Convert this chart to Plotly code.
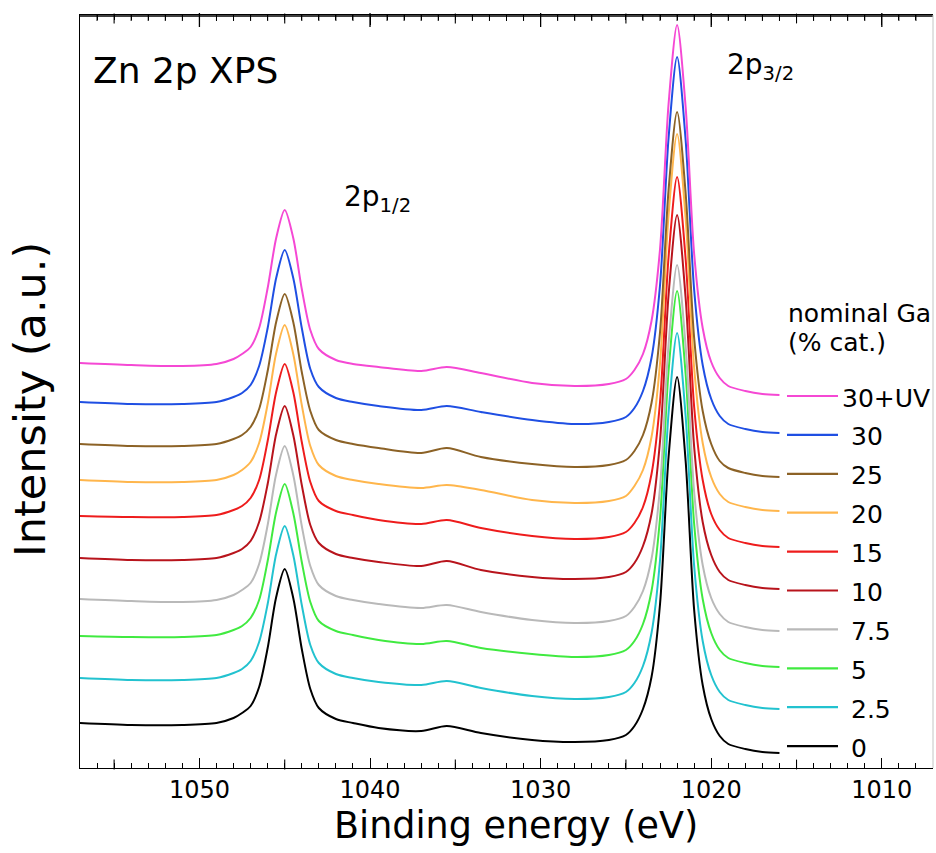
import plotly.graph_objects as go

# Binding energy grid (eV) shared by all spectra
energy_ev = [1057, 1054, 1051, 1049, 1048, 1047.5, 1047, 1046.5, 1046, 1045.5,
             1045, 1044.5, 1044, 1043.5, 1043, 1042, 1041, 1039.5, 1037, 1035.5,
             1033.5, 1030.5, 1028, 1026, 1025, 1024.5, 1024, 1023.5, 1023, 1022.5,
             1022, 1021.5, 1021, 1020.5, 1020, 1019.5, 1019, 1018, 1017, 1016]

# Zn 2p intensities (a.u., vertically offset stack) for each nominal Ga content
ga_30_uv = [405, 403, 402, 404, 409, 414, 421, 440, 480, 530, 558, 530, 479, 438, 419, 408, 404, 401, 397, 401,
            395, 385, 382, 384, 389, 398, 414, 447, 519, 664, 743, 661, 514, 440, 406, 390, 382, 377, 374, 373]
ga_30 = [366, 364, 364, 366, 371, 375, 383, 402, 440, 490, 518, 490, 440, 399, 381, 370, 366, 362, 358, 362,
         356, 348, 344, 346, 351, 360, 377, 410, 483, 630, 711, 628, 478, 403, 369, 352, 344, 339, 336, 335]
ga_25 = [324, 322, 322, 324, 329, 333, 341, 359, 397, 446, 474, 446, 396, 357, 338, 328, 324, 320, 315, 320,
         311, 304, 301, 303, 308, 317, 333, 365, 436, 578, 656, 575, 430, 357, 324, 307, 300, 295, 292, 291]
ga_20 = [288, 286, 286, 288, 293, 298, 306, 325, 364, 415, 443, 414, 363, 322, 303, 292, 288, 284, 280, 283,
         278, 268, 265, 267, 272, 282, 298, 331, 405, 553, 634, 550, 400, 325, 291, 274, 266, 261, 258, 257]
ga_15 = [252, 251, 251, 253, 258, 262, 270, 288, 327, 376, 404, 376, 326, 286, 267, 257, 253, 248, 244, 248,
         240, 232, 229, 231, 236, 245, 261, 294, 366, 511, 591, 509, 361, 288, 254, 238, 230, 225, 222, 221]
ga_10 = [210, 208, 208, 210, 215, 219, 227, 246, 284, 334, 362, 333, 283, 243, 225, 214, 210, 206, 202, 207,
         198, 191, 189, 191, 196, 205, 222, 254, 327, 473, 553, 470, 321, 246, 213, 196, 188, 183, 180, 179]
ga_7_5 = [169, 167, 166, 168, 173, 178, 185, 204, 243, 294, 322, 293, 242, 202, 183, 172, 168, 164, 160, 163,
          156, 148, 145, 147, 152, 161, 177, 209, 281, 424, 503, 422, 276, 203, 170, 154, 146, 141, 138, 137]
ga_5 = [132, 131, 131, 133, 138, 142, 150, 168, 207, 256, 284, 255, 206, 166, 147, 137, 133, 128, 124, 127,
        120, 114, 111, 113, 118, 127, 144, 177, 250, 397, 477, 394, 244, 169, 135, 118, 110, 105, 102, 101]
ga_2_5 = [90, 88, 88, 90, 95, 99, 107, 126, 164, 214, 242, 213, 163, 123, 105, 94, 90, 86, 83, 87,
          80, 72, 69, 71, 76, 85, 102, 135, 208, 355, 435, 352, 202, 127, 93, 76, 68, 63, 60, 59]
ga_0 = [45, 43, 43, 45, 50, 55, 62, 81, 120, 171, 199, 170, 119, 79, 60, 49, 45, 40, 37, 42,
        35, 28, 26, 28, 33, 42, 59, 91, 164, 311, 391, 307, 158, 83, 49, 32, 24, 19, 16, 15]

series_labels = ["30+UV", "30", "25", "20", "15", "10", "7.5", "5", "2.5", "0"]
series_values = [ga_30_uv, ga_30, ga_25, ga_20, ga_15, ga_10, ga_7_5, ga_5, ga_2_5, ga_0]
series_colors = ["#f548d4", "#1f4fe3", "#8c6226", "#ffb64c", "#ee1c1c",
                 "#b8141c", "#b9b9b9", "#40ea40", "#22c2cf", "#000000"]

x_ticks = [1050, 1040, 1030, 1020, 1010]

FONT = "DejaVu Sans"
W, H = 936, 853
L, R, T, B = 80, 3, 15, 85
PW, PH = W - L - R, H - T - B
X_RANGE = [1057, 1007]
Y_MAX = 753  # intensity axis top (one unit per pixel of plot height)


def fx(px):
    return (px - L) / PW


def fy(py):
    return (H - B - py) / PH


fig = go.Figure()

for label, vals, color in zip(series_labels[::-1], series_values[::-1], series_colors[::-1]):
    fig.add_trace(go.Scatter(
        x=energy_ev, y=vals, mode="lines", name=label,
        line=dict(color=color, width=2, shape="spline", smoothing=0.8),
        showlegend=False,
    ))

# tick marks pointing into the frame: 5 eV marks on the bottom edge,
# and the full major / 5 eV / 1 eV set along the top edge
lo, hi = X_RANGE[1], X_RANGE[0]
minor_pos = [e for e in range(lo + 1, hi) if e % 5]
mid_pos = [e for e in range(lo + 1, hi) if e % 5 == 0 and e % 10]
tick_sets = [
    (mid_pos, 7, 1.1, "bottom"),
    (x_ticks, 10, 1.3, "top"),
    (mid_pos, 7, 1.1, "top"),
    (minor_pos, 5, 1.0, "top"),
]
for pos, length, width, edge in tick_sets:
    yv = length / 2 if edge == "bottom" else Y_MAX - length / 2
    fig.add_trace(go.Scatter(
        x=pos, y=[yv] * len(pos), mode="markers", showlegend=False, hoverinfo="skip",
        marker=dict(symbol="line-ns", size=length, line=dict(color="black", width=width)),
        cliponaxis=False,
    ))

fig.update_layout(
    width=W, height=H,
    margin=dict(l=L, r=R, t=T, b=B),
    plot_bgcolor="white", paper_bgcolor="white",
    font=dict(family=FONT, color="black"),
    xaxis=dict(
        range=X_RANGE, tickvals=x_ticks, ticks="inside", ticklen=10, tickwidth=1.3,
        tickcolor="black", showline=True, linecolor="black", linewidth=1.3,
        mirror="ticks", showgrid=False, zeroline=False,
        tickfont=dict(family=FONT, size=24, color="black"),
        minor=dict(dtick=1, tick0=1007, ticks="inside", ticklen=5, tickwidth=1, tickcolor="black"),
    ),
    yaxis=dict(
        range=[0, Y_MAX], showticklabels=False, ticks="", showline=True,
        linecolor="black", linewidth=1.3, showgrid=False, zeroline=False,
    ),
)

# frame: top edge (kept just inside the plot area) and the faint right edge
fig.add_shape(type="line", xref="paper", yref="paper", x0=0, x1=1,
              y0=fy(T + 1), y1=fy(T + 1), layer="above",
              line=dict(color="black", width=1.6))
fig.add_shape(type="line", xref="paper", yref="paper", x0=1, x1=1, y0=0, y1=1,
              line=dict(color="#c4c4c4", width=1))

ann = []
# axis titles
ann.append(dict(text="Binding energy (eV)", x=fx(516), y=fy(825), xanchor="center", yanchor="middle",
                font=dict(size=36.5)))
ann.append(dict(text="Intensity (a.u.)", x=fx(30), y=fy(400), xanchor="center", yanchor="middle",
                textangle=-90, font=dict(size=43)))
# panel labels
ann.append(dict(text="Zn 2p XPS", x=fx(91), y=fy(70), xanchor="left", yanchor="middle",
                font=dict(size=36)))
ann.append(dict(text="2p<sub>1/2</sub>", x=fx(342), y=fy(178), xanchor="left", yanchor="top",
                font=dict(size=28)))
ann.append(dict(text="2p<sub>3/2</sub>", x=fx(725), y=fy(46), xanchor="left", yanchor="top",
                font=dict(size=28)))
# legend title
ann.append(dict(text="nominal Ga", x=fx(786), y=fy(313.6), xanchor="left", yanchor="middle",
                font=dict(size=25)))
ann.append(dict(text="(% cat.)", x=fx(786), y=fy(342.6), xanchor="left", yanchor="middle",
                font=dict(size=25)))

# legend rows
row0, row_gap = 396, 38.9
for i, (label, color) in enumerate(zip(series_labels, series_colors)):
    ry = row0 + i * row_gap
    fig.add_shape(type="line", xref="paper", yref="paper",
                  x0=fx(787), x1=fx(838), y0=fy(ry), y1=fy(ry),
                  line=dict(color=color, width=2.2))
    tx = 840 if "+" in label else 849
    ann.append(dict(text=label, x=fx(tx), y=fy(ry + 2), xanchor="left", yanchor="middle",
                    font=dict(size=25)))

for a in ann:
    a.update(xref="paper", yref="paper", showarrow=False)
    a["font"].update(family=FONT, color="black")
fig.update_layout(annotations=ann)

fig.write_html("out.html")
